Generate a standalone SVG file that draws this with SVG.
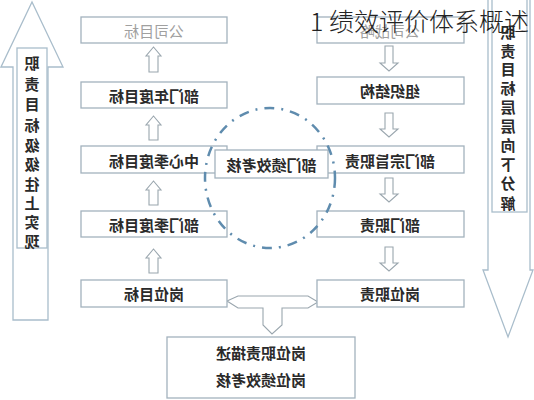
<svg xmlns="http://www.w3.org/2000/svg" width="534" height="400" viewBox="0 0 534 400">
<style>
.box{fill:#ffffff;stroke:#a3b2bd;stroke-width:1.3}
.big{fill:#ffffff;stroke:#a9bdcb;stroke-width:1.3}
.t{font-family:"Noto Sans CJK SC","Noto Sans",sans-serif;font-size:15px;font-weight:bold;fill:#2a2a2a;text-anchor:middle;dominant-baseline:central}
.light{fill:#a0a0a0;font-weight:normal}
.arr{fill:#ffffff;stroke:#9aa6ae;stroke-width:1.1}
.title{font-family:"Noto Sans CJK SC","Noto Sans",sans-serif;font-size:25px;fill:#222;font-weight:300}
</style>
<rect width="534" height="400" fill="#ffffff"/>

<g id="left-big-arrow">
<path class="big" d="M13,320 L13,67 L1,67 L32,2 L63,67 L48,67 L48,320 Z"/>
<rect class="big" x="17" y="48" width="30" height="200"/>
<text class="t" transform="translate(32,0) scale(-1,1)"><tspan x="0" y="62">职</tspan><tspan x="0" y="83">责</tspan><tspan x="0" y="103">目</tspan><tspan x="0" y="124">标</tspan><tspan x="0" y="144">级</tspan><tspan x="0" y="163">级</tspan><tspan x="0" y="183">往</tspan><tspan x="0" y="202">上</tspan><tspan x="0" y="221">实</tspan><tspan x="0" y="240">现</tspan></text>
</g>

<g id="right-big-arrow">
<path class="big" d="M488,-2 L488,270 L483,270 L508,337 L533,270 L530,270 L530,-2 Z"/>
<rect class="big" x="492" y="-2" width="35" height="214"/>
<text class="t" transform="translate(508,0) scale(-1,1)"><tspan x="0" y="31">职</tspan><tspan x="0" y="50">责</tspan><tspan x="0" y="68">目</tspan><tspan x="0" y="87">标</tspan><tspan x="0" y="106">层</tspan><tspan x="0" y="125">层</tspan><tspan x="0" y="144">向</tspan><tspan x="0" y="163">下</tspan><tspan x="0" y="182">分</tspan><tspan x="0" y="202">解</tspan></text>
</g>

<g id="connectors">
<path class="arr" d="M149,72 L149,56 L146,56 L153.5,47 L161,56 L158,56 L158,72 Z"/>
<path class="arr" d="M149,140 L149,125 L146,125 L153.5,116 L161,125 L158,125 L158,140 Z"/>
<path class="arr" d="M149,205 L149,190 L146,190 L153.5,181 L161,190 L158,190 L158,205 Z"/>
<path class="arr" d="M149,273 L149,258 L146,258 L153.5,249 L161,258 L158,258 L158,273 Z"/>
<path class="arr" d="M385,46 L385,63 L380,63 L389,71 L398,63 L393,63 L393,46 Z"/>
<path class="arr" d="M385,113 L385,129 L380,129 L389,137 L398,129 L393,129 L393,113 Z"/>
<path class="arr" d="M385,178 L385,194 L380,194 L389,202 L398,194 L393,194 L393,178 Z"/>
<path class="arr" d="M385,247 L385,263 L380,263 L389,271 L398,263 L393,263 L393,247 Z"/>
<path class="arr" d="M227,301 L238,296 L308,296 L318,302 L308,308 L282,308 L282,325 L272,334 L263,325 L263,308 L238,308 Z"/>
</g>

<g id="box-company-goal"><rect class="box" x="81" y="17" width="146" height="26"/><text class="t light" transform="translate(154,30) scale(-1,1)">公司目标</text></g>
<g id="box-dept-annual"><rect class="box" x="81" y="82" width="146" height="26"/><text class="t" transform="translate(154,95) scale(-1,1)">部门年度目标</text></g>
<g id="box-center-quarter"><rect class="box" x="81" y="146" width="146" height="27"/><text class="t" transform="translate(154,160) scale(-1,1)">中心季度目标</text></g>
<g id="box-dept-quarter"><rect class="box" x="81" y="211" width="146" height="26"/><text class="t" transform="translate(154,224) scale(-1,1)">部门季度目标</text></g>
<g id="box-post-goal"><rect class="box" x="81" y="280" width="146" height="27"/><text class="t" transform="translate(154,293) scale(-1,1)">岗位目标</text></g>

<g id="box-company-strategy"><rect class="box" x="317" y="17" width="147" height="26"/><text class="t light" transform="translate(390,30) scale(-1,1)">公司战略</text></g>
<g id="box-org"><rect class="box" x="317" y="77" width="147" height="27"/><text class="t" transform="translate(390,90.5) scale(-1,1)">组织结构</text></g>
<g id="box-dept-mission"><rect class="box" x="317" y="146" width="147" height="27"/><text class="t" transform="translate(390,160) scale(-1,1)">部门宗旨职责</text></g>
<g id="box-dept-duty"><rect class="box" x="317" y="211" width="147" height="26"/><text class="t" transform="translate(390,224) scale(-1,1)">部门职责</text></g>
<g id="box-post-duty"><rect class="box" x="317" y="280" width="147" height="27"/><text class="t" transform="translate(390,293) scale(-1,1)">岗位职责</text></g>

<g id="box-dept-appraisal"><rect class="box" x="215" y="150" width="113" height="28"/><text class="t" transform="translate(271.5,164) scale(-1,1)">部门绩效考核</text></g>

<g id="box-bottom"><rect class="box" x="167" y="337" width="188" height="61"/><text class="t" transform="translate(261,352) scale(-1,1)">岗位职责描述</text><text class="t" transform="translate(261,379) scale(-1,1)">岗位绩效考核</text></g>

<g id="circle"><ellipse cx="270" cy="178" rx="65" ry="70" fill="none" stroke="#5f8cae" stroke-width="2.5" stroke-dasharray="10 7 2 7"/></g>

<text class="title" x="310" y="31">1 绩效评价体系概述</text>
</svg>
